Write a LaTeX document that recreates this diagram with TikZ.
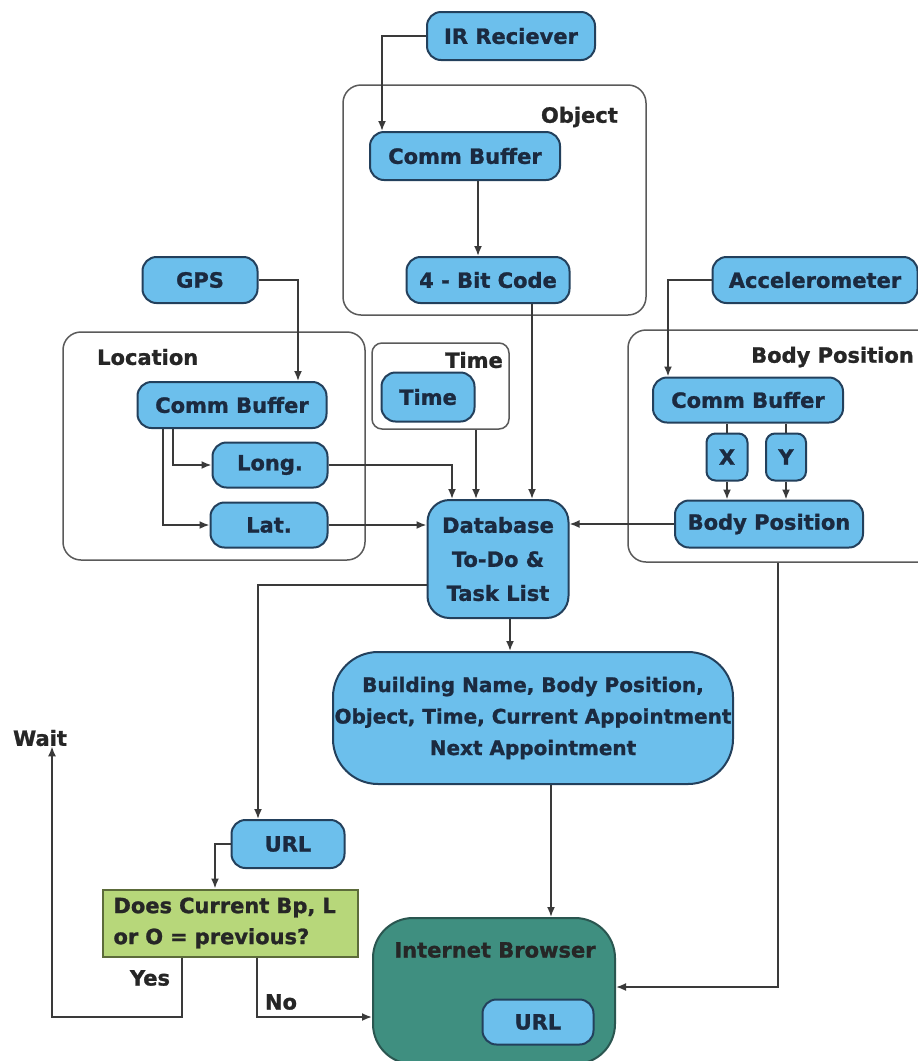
\documentclass[tikz,border=0pt]{standalone}
\usepackage{fontspec}
\setmainfont{DejaVu Sans}[BoldFeatures={FakeBold=1.2}]
\usetikzlibrary{calc,arrows.meta}

\definecolor{boxfill}{HTML}{6CBFEC}
\definecolor{boxline}{HTML}{23405C}
\definecolor{boxtext}{HTML}{1B2A40}
\definecolor{webfill}{HTML}{3F8F80}
\definecolor{webline}{HTML}{2A5650}
\definecolor{askfill}{HTML}{B7D77A}
\definecolor{askline}{HTML}{5C6B3A}
\definecolor{wire}{HTML}{3A3A3A}
\definecolor{frame}{HTML}{5A5A5A}

\newcommand{\lblfont}{\bfseries\fontsize{21}{34}\selectfont}

\tikzset{
  blk/.style={draw=boxline, fill=boxfill, line width=2pt, rounded corners=14pt,
    inner sep=0pt, text=boxtext, font=\lblfont, align=center},
  grp/.style={draw=frame, line width=1.5pt, rounded corners=18pt, inner sep=0pt},
  grptitle/.style={font=\lblfont, text=black!85, inner sep=0pt},
  arr/.style={draw=wire, line width=1.8pt, -{Latex[length=10pt,width=8pt]}},
  wireline/.style={draw=wire, line width=1.8pt},
}

\begin{document}
\begin{tikzpicture}[x=1pt,y=-1pt]
\useasboundingbox (0,0) rectangle (918,1061);
\fill[white] (0,0) rectangle (918,1061);

% group frames
\node[grp, minimum width=303, minimum height=230] (objgrp) at (494.5,200) {};
\node[grp, minimum width=302, minimum height=228] (locgrp) at (214,446) {};
\node[grp, rounded corners=10pt, minimum width=137, minimum height=86] (timegrp) at (440.5,386) {};
\node[grp, minimum width=310, minimum height=232] (bpgrp) at (783,446) {};

\node[grptitle, anchor=east] (objlbl) at (618,117) {Object};
\node[grptitle, anchor=west] (loclbl) at (97,357) {Location};
\node[grptitle, anchor=east] (timelbl) at (503,360) {Time};
\node[grptitle, anchor=east] (bplbl) at (914,357) {Body Position};

% object branch
\node[blk, minimum width=168, minimum height=48] (ir) at (511,36) {IR Reciever};
\node[blk, minimum width=190, minimum height=48] (cbO) at (465,156) {Comm Buffer};
\node[blk, minimum width=163, minimum height=46] (code) at (488,280) {4 - Bit Code};

% location branch
\node[blk, minimum width=115, minimum height=46] (gps) at (200,280) {GPS};
\node[blk, minimum width=189, minimum height=46] (cbL) at (232,405) {Comm Buffer};
\node[blk, minimum width=115, minimum height=45] (long) at (270,465) {Long.};
\node[blk, minimum width=117, minimum height=45] (lat) at (269,525) {Lat.};

% time
\node[blk, minimum width=93, minimum height=49] (timeN) at (428,397) {Time};

% body position branch
\node[blk, minimum width=205, minimum height=46] (acc) at (815,280) {Accelerometer};
\node[blk, minimum width=190, minimum height=45] (cbB) at (748,400) {Comm Buffer};
\node[blk, rounded corners=9pt, minimum width=41, minimum height=47] (xN) at (727,457) {X};
\node[blk, rounded corners=9pt, minimum width=40, minimum height=47] (yN) at (786,457) {Y};
\node[blk, minimum width=188, minimum height=47] (bpN) at (769,524) {Body Position};

% central database and outputs
\node[blk, rounded corners=22pt, minimum width=141, minimum height=118] (db) at (498,559) {Database\\To-Do \&\\Task List};
\node[blk, rounded corners=45pt, minimum width=400, minimum height=132,
      font=\bfseries\fontsize{20}{31.5}\selectfont] (big) at (533,718)
      {Building Name, Body Position,\\Object, Time, Current Appointment\\Next Appointment};
\node[blk, minimum width=113, minimum height=48] (url1) at (288,844) {URL};
\node[draw=askline, fill=askfill, line width=2pt, minimum width=255, minimum height=67,
      inner sep=0pt, text=black!85, align=left,
      text width=233, font=\bfseries\fontsize{21}{31}\selectfont] (dec) at (230,923)
      {Does Current Bp, L\\or O = previous?};
\node[draw=webline, fill=webfill, line width=2pt, rounded corners=40pt,
      minimum width=242, minimum height=146, inner sep=0pt] (browser) at (494,991) {};
\node[font=\lblfont, text=black!85, inner sep=0pt] (brlbl) at (495,950) {Internet Browser};
\node[blk, minimum width=111, minimum height=45] (url2) at (538,1022) {URL};

% free labels
\node[font=\lblfont, text=black!85, inner sep=0pt] (wait) at (40,738) {Wait};
\node[font=\lblfont, text=black!85, inner sep=0pt] (yes) at (150,978) {Yes};
\node[font=\lblfont, text=black!85, inner sep=0pt] (no) at (281,1002) {No};

% vertical and horizontal wire positions
\coordinate (vIr) at (382,0);
\coordinate (vCb) at (478,0);
\coordinate (vObj) at (532,0);
\coordinate (vTime) at (476,0);
\coordinate (vLong) at (452,0);
\coordinate (vGps) at (298,0);
\coordinate (vL1) at (173,0);
\coordinate (vL2) at (163,0);
\coordinate (vAcc) at (668,0);
\coordinate (vDb) at (510,0);
\coordinate (vBig) at (551,0);
\coordinate (vUrl) at (258,0);
\coordinate (vDec) at (215,0);
\coordinate (vBp) at (778,0);
\coordinate (vYes) at (182,0);
\coordinate (vNo) at (257,0);
\coordinate (vWait) at (52,0);
\coordinate (hUrl) at (0,585);
\coordinate (hRight) at (0,987);
\coordinate (hBot) at (0,1017);

% connectors
\draw[arr] (ir.west) -| (cbO.north -| vIr);
\draw[arr] (cbO.south -| vCb) -- (code.north -| vCb);
\draw[arr] (code.south -| vObj) -- (db.north -| vObj);
\draw[arr] (timegrp.south -| vTime) -- (db.north -| vTime);
\draw[arr] (long.east) -| (db.north -| vLong);
\draw[arr] (lat.east) -- (db.west |- lat.east);
\draw[arr] (gps.east) -| (cbL.north -| vGps);
\draw[arr] (cbL.south -| vL1) |- (long.west);
\draw[arr] (cbL.south -| vL2) |- (lat.west);
\draw[arr] (acc.west) -| (cbB.north -| vAcc);
\draw[wireline] (cbB.south -| xN) -- (xN.north);
\draw[wireline] (cbB.south -| yN) -- (yN.north);
\draw[arr] (xN.south) -- (bpN.north -| xN);
\draw[arr] (yN.south) -- (bpN.north -| yN);
\draw[arr] (bpN.west) -- (db.east |- bpN.west);
\draw[arr] (db.south -| vDb) -- (big.north -| vDb);
\draw[arr] (big.south -| vBig) -- (browser.north -| vBig);
\draw[arr] (db.west |- hUrl) -| (url1.north -| vUrl);
\draw[arr] (url1.west) -| (dec.north -| vDec);
\draw[arr] (bpgrp.south -| vBp) |- (browser.east |- hRight);
\draw[arr] (dec.south -| vYes) |- (hBot -| vWait) -- (wait.south -| vWait);
\draw[arr] (dec.south -| vNo) |- (browser.west |- hBot);
\end{tikzpicture}
\end{document}
